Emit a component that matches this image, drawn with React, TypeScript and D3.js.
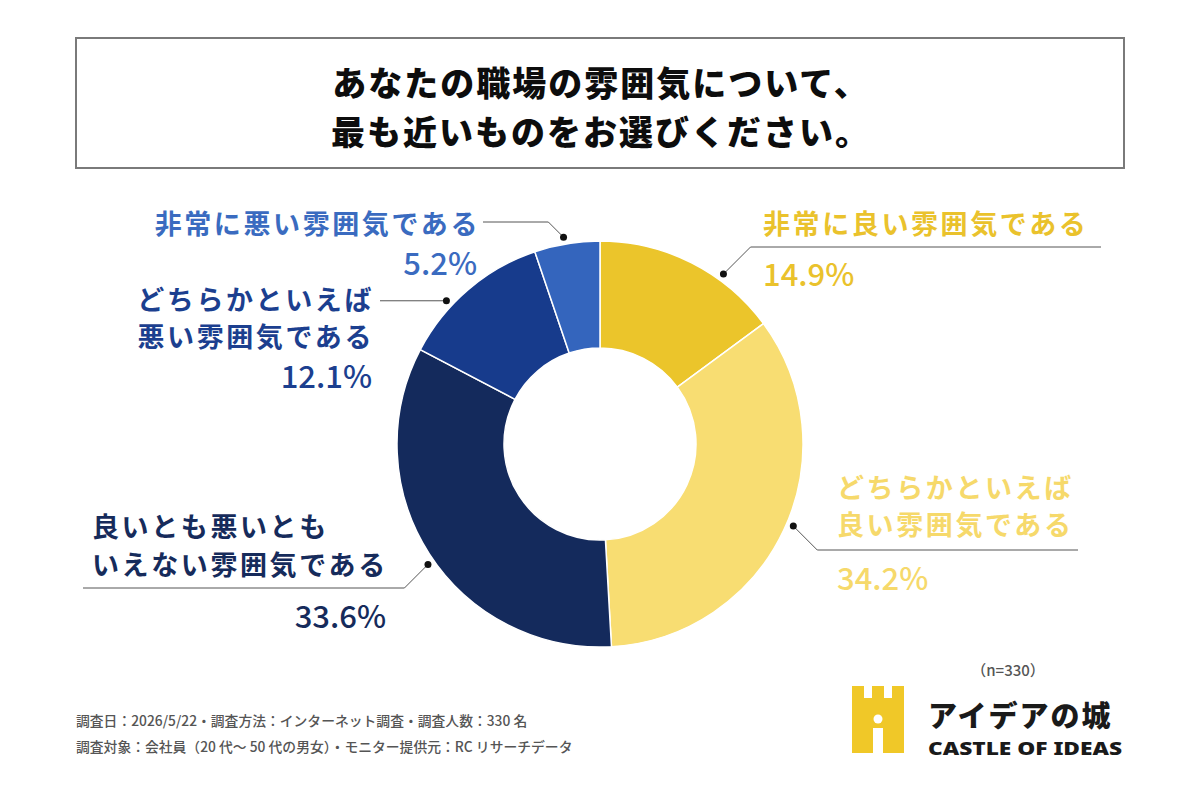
import { useEffect, useRef } from 'react';
import * as d3 from 'd3';

// Survey answers, clockwise from 12 o'clock
const categories = [
    ['非常に良い雰囲気である'],
    ['どちらかといえば', '良い雰囲気である'],
    ['良いとも悪いとも', 'いえない雰囲気である'],
    ['どちらかといえば', '悪い雰囲気である'],
    ['非常に悪い雰囲気である'],
];
const shares = [14.9, 34.2, 33.6, 12.1, 5.2];
const sliceColors = ['#EBC52B', '#F8DD72', '#142A5C', '#173B8C', '#3465BD'];
const labelColors = ['#EAC22C', '#F6D96B', '#162B5B', '#1C3F8F', '#3A6BC0'];

const titleLines = ['あなたの職場の雰囲気について、', '最も近いものをお選びください。'];
const footerLines = [
    '調査日：2026/5/22・調査方法：インターネット調査・調査人数：330 名',
    '調査対象：会社員（20 代～ 50 代の男女）・モニター提供元：RC リサーチデータ',
];
const sampleNote = '（n=330）';

// Label placement (layout only)
const labelLayout = [
    { angle: 36, lineY: 247, lineEnd: 1101, textX: 763, anchor: 'start', lineYs: [222], pctX: 763, pctAnchor: 'start', pctY: 272 },
    { angle: 113, lineY: 550, lineEnd: 1078, textX: 837, anchor: 'start', lineYs: [486, 523], pctX: 837, pctAnchor: 'start', pctY: 576 },
    { angle: 235, lineY: 588, lineEnd: 83, textX: 92, anchor: 'start', lineYs: [525, 563], pctX: 386, pctAnchor: 'end', pctY: 614 },
    { angle: 313, lineY: null, lineEnd: 380, textX: 374, anchor: 'end', lineYs: [298, 335], pctX: 372, pctAnchor: 'end', pctY: 374 },
    { angle: 350, lineY: 222, lineEnd: 483, textX: 480, anchor: 'end', lineYs: [222], pctX: 477, pctAnchor: 'end', pctY: 261 },
];

const FONT = '"Noto Sans CJK JP", "Noto Sans", sans-serif';

export default function App() {
    const svgRef = useRef<SVGSVGElement>(null);

    useEffect(() => {
        document.body.style.margin = '0';
        if (!svgRef.current) return;
        const svg = d3.select(svgRef.current);
        svg.selectAll('*').remove();

        svg.append('rect').attr('width', 1200).attr('height', 800).attr('fill', '#ffffff');

        // Title box
        svg.append('rect')
            .attr('x', 76).attr('y', 38)
            .attr('width', 1048).attr('height', 130)
            .attr('fill', 'none')
            .attr('stroke', '#7a7a7a')
            .attr('stroke-width', 2);

        svg.append('g').selectAll('text')
            .data(titleLines)
            .enter()
            .append('text')
            .attr('x', 601)
            .attr('y', (_, i) => 81 + i * 49)
            .attr('text-anchor', 'middle')
            .attr('dominant-baseline', 'central')
            .attr('font-family', FONT)
            .attr('font-weight', 900)
            .attr('font-size', 34)
            .attr('letter-spacing', 2)
            .attr('fill', '#0d0d0d')
            .text(d => d);

        // Donut
        const cx = 600, cy = 444;
        const outerR = 203, innerR = 96, dotR = 210;

        const pie = d3.pie<number>().sort(null).value(d => d);
        const arcs = pie(shares);
        const arc = d3.arc<d3.PieArcDatum<number>>().innerRadius(innerR).outerRadius(outerR);

        const chart = svg.append('g').attr('transform', `translate(${cx},${cy})`);
        chart.selectAll('path')
            .data(arcs)
            .enter()
            .append('path')
            .attr('d', arc)
            .attr('fill', (_, i) => sliceColors[i])
            .attr('stroke', '#ffffff')
            .attr('stroke-width', 1.5);

        // Leaders and labels
        const labels = svg.append('g');
        labelLayout.forEach((lay, i) => {
            const a = (lay.angle * Math.PI) / 180;
            const dx = cx + dotR * Math.sin(a);
            const dy = cy - dotR * Math.cos(a);
            let pts: [number, number][];
            if (lay.lineY == null) {
                pts = [[dx, dy], [lay.lineEnd, dy]];
            } else {
                const dir = lay.lineEnd > dx ? 1 : -1;
                const ex = dx + dir * Math.abs(lay.lineY - dy);
                pts = [[dx, dy], [ex, lay.lineY], [lay.lineEnd, lay.lineY]];
            }
            labels.append('path')
                .attr('d', d3.line()(pts))
                .attr('fill', 'none')
                .attr('stroke', '#555')
                .attr('stroke-width', 1);
            labels.append('circle')
                .attr('cx', dx).attr('cy', dy).attr('r', 3.5)
                .attr('fill', '#111');

            categories[i].forEach((line, j) => {
                labels.append('text')
                    .attr('x', lay.textX)
                    .attr('y', lay.lineYs[j])
                    .attr('text-anchor', lay.anchor)
                    .attr('dominant-baseline', 'central')
                    .attr('font-family', FONT)
                    .attr('font-weight', 700)
                    .attr('font-size', 27)
                    .attr('letter-spacing', 2.6)
                    .attr('fill', labelColors[i])
                    .text(line);
            });
            labels.append('text')
                .attr('x', lay.pctX)
                .attr('y', lay.pctY)
                .attr('text-anchor', lay.pctAnchor)
                .attr('dominant-baseline', 'central')
                .attr('font-family', FONT)
                .attr('font-weight', 500)
                .attr('font-size', 31)
                .attr('fill', labelColors[i])
                .text(`${d3.format('.1f')(shares[i])}%`);
        });

        // Footer
        svg.append('g').selectAll('text')
            .data(footerLines)
            .enter()
            .append('text')
            .attr('x', 76)
            .attr('y', (_, i) => 720 + i * 26)
            .attr('dominant-baseline', 'central')
            .attr('font-family', FONT)
            .attr('font-weight', 500)
            .attr('font-size', 13.8)
            .attr('fill', '#555')
            .text(d => d);

        svg.append('text')
            .attr('x', 1008).attr('y', 669)
            .attr('text-anchor', 'middle')
            .attr('dominant-baseline', 'central')
            .attr('font-family', FONT)
            .attr('font-weight', 500)
            .attr('font-size', 15)
            .attr('fill', '#555')
            .text(sampleNote);

        // Logo
        const logo = svg.append('g').attr('transform', 'translate(852,686)');
        logo.append('path')
            .attr('d', 'M0,0 H12 V12 H20 V0 H32 V12 H40 V0 H52 V67 H31 V42 H21 V67 H0 Z')
            .attr('fill', '#F0C828');
        logo.append('circle').attr('cx', 26).attr('cy', 33).attr('r', 4.5).attr('fill', '#fff');

        svg.append('text')
            .attr('x', 928).attr('y', 714)
            .attr('dominant-baseline', 'central')
            .attr('font-family', FONT)
            .attr('font-weight', 900)
            .attr('font-size', 29)
            .attr('letter-spacing', 2)
            .attr('fill', '#1a1a1a')
            .text('アイデアの城');
        svg.append('text')
            .attr('x', 928).attr('y', 748)
            .attr('dominant-baseline', 'central')
            .attr('font-family', '"Noto Sans", Roboto, sans-serif')
            .attr('font-weight', 900)
            .attr('font-size', 18)
            .attr('textLength', 194)
            .attr('lengthAdjust', 'spacingAndGlyphs')
            .attr('fill', '#1a1a1a')
            .text('CASTLE OF IDEAS');
    }, []);

    return (
        <svg ref={svgRef} width={1200} height={800} style={{ display: 'block' }} />
    );
}
